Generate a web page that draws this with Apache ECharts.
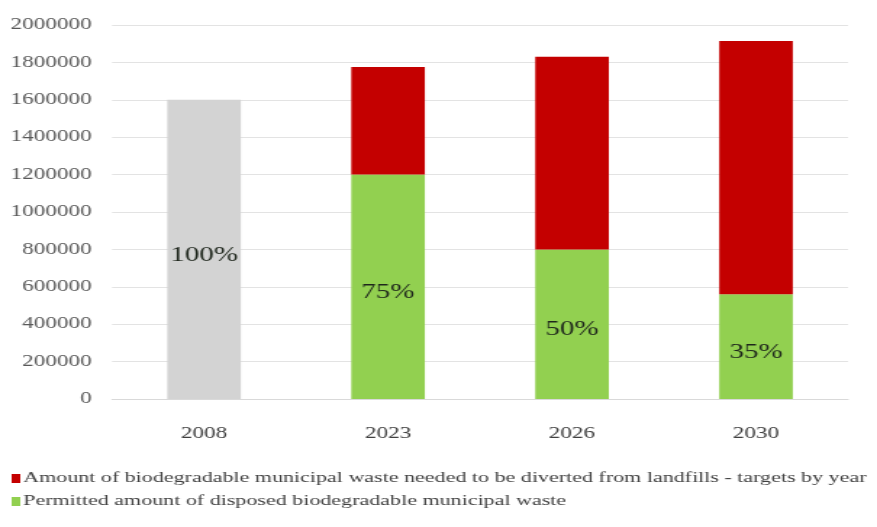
<!DOCTYPE html>
<html>
<head>
<meta charset="utf-8">
<script src="https://cdn.jsdelivr.net/npm/echarts@6/dist/echarts.min.js"></script>
<style>
html,body{margin:0;padding:0;background:#fff;overflow:hidden;width:877px;height:527px;}
#wrap{width:877px;height:527px;overflow:hidden;position:relative;}
#chart{width:605px;height:527px;transform:scaleX(1.4496);transform-origin:0 0;position:absolute;left:0;top:0;}
</style>
</head>
<body>
<div id="wrap"><div id="chart"></div></div>
<script>
const categories = ['2008', '2023', '2026', '2030'];
const baseline2008 = [1600000, '-', '-', '-'];
const permitted = ['-', 1200000, 800000, 560000];
const diverted = ['-', 575000, 1030000, 1355000];
const percentLabels = ['100%', '75%', '50%', '35%'];
const yTicks = [0, 200000, 400000, 600000, 800000, 1000000, 1200000, 1400000, 1600000, 1800000, 2000000];

const nameDiverted = 'Amount of biodegradable municipal waste needed to be diverted from landfills - targets by year';
const namePermitted = 'Permitted amount of disposed biodegradable municipal waste';

const chart = echarts.init(document.getElementById('chart'), null, {renderer: 'canvas'});
const serif = "'Times New Roman', 'Liberation Serif', 'DejaVu Serif', serif";
const pctLabel = {
  show: true,
  position: 'inside',
  offset: [0, 6],
  fontFamily: serif,
  fontSize: 20,
  color: '#1e261c',
  formatter: p => percentLabels[p.dataIndex]
};
chart.setOption({
  animation: false,
  backgroundColor: '#ffffff',
  grid: {left: 77.3, right: 20, top: 25, bottom: 128, containLabel: false},
  legend: [
    {
      data: [nameDiverted],
      orient: 'vertical',
      left: 3, top: 466,
      itemWidth: 6, itemHeight: 9, itemGap: 4,
      icon: 'rect',
      textStyle: {fontFamily: serif, fontSize: 15.2, color: '#404040', padding: [0,0,0,-3]}
    },
    {
      data: [namePermitted],
      orient: 'vertical',
      left: 3, top: 489,
      itemWidth: 6, itemHeight: 9,
      icon: 'rect',
      textStyle: {fontFamily: serif, fontSize: 15.2, color: '#404040', padding: [0,0,0,-3]}
    }
  ],
  xAxis: {
    type: 'category',
    data: categories,
    axisLine: {lineStyle: {color: '#d9d9d9', width: 1}},
    axisTick: {show: false},
    axisLabel: {fontFamily: serif, fontSize: 16, color: '#404040', margin: 27}
  },
  yAxis: {
    type: 'value',
    min: yTicks[0],
    max: yTicks[yTicks.length - 1],
    interval: yTicks[1] - yTicks[0],
    axisLine: {show: false},
    axisTick: {show: false},
    splitLine: {lineStyle: {color: '#e3e3e3', width: 1}},
    axisLabel: {fontFamily: serif, fontSize: 16, color: '#595959', margin: 14, formatter: v => String(v)}
  },
  series: [
    {
      name: '2008 baseline',
      type: 'bar',
      stack: 'total',
      barWidth: '40%',
      data: baseline2008,
      itemStyle: {color: '#d3d3d3'},
      label: pctLabel
    },
    {
      name: namePermitted,
      type: 'bar',
      stack: 'total',
      barWidth: '40%',
      data: permitted,
      itemStyle: {color: '#92d050'},
      label: pctLabel
    },
    {
      name: nameDiverted,
      type: 'bar',
      stack: 'total',
      barWidth: '40%',
      data: diverted,
      itemStyle: {color: '#c40000'},
      label: {show: false}
    }
  ]
});
</script>
</body>
</html>
